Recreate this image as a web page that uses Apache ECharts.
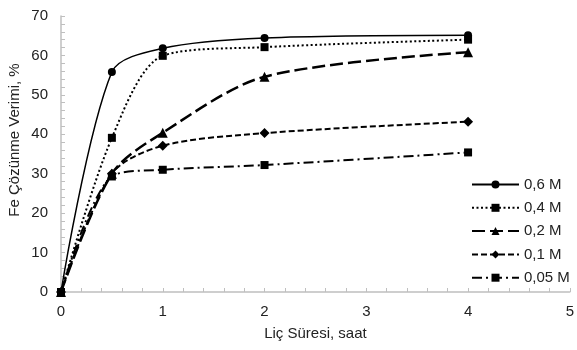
<!DOCTYPE html>
<html><head><meta charset="utf-8">
<script src="https://cdn.jsdelivr.net/npm/echarts@6/dist/echarts.min.js"></script>
<style>html,body{margin:0;padding:0;background:#fff}#c{width:577px;height:350px}</style>
</head><body><div id="c"></div>
<script>
const times = [0, 0.5, 1, 2, 4];
const names = ['0,6 M', '0,4 M', '0,2 M', '0,1 M', '0,05 M'];
const s06 = [0, 55.8, 61.8, 64.4, 65.1];
const s04 = [0, 39.1, 59.9, 62.1, 64.0];
const s02 = [0, 30.0, 40.4, 54.6, 60.8];
const s01 = [0, 30.0, 37.1, 40.3, 43.2];
const s005 = [0, 29.3, 31.0, 32.2, 35.4];
const xTitle = 'Liç Süresi, saat';
const yTitle = 'Fe Çözünme Verimi, %';
const allVals = [s06, s04, s02, s01, s005];
const symbols = ['circle', 'rect', 'triangle', 'diamond', 'rect'];
const symSizes = [8, 8, 10, 10, 8];
const widths = [1.5, 2, 2.5, 2, 2];
const dashes = ['solid', [2, 2.5], [13, 5], [6, 3], [10, 4, 2, 4]];
const font = 'Liberation Sans, Arial, sans-serif';
const txt = '#222';

const chart = echarts.init(document.getElementById('c'), null, {renderer: 'canvas'});
const series = allVals.map((vals, i) => ({
  name: names[i],
  type: 'line',
  data: times.map((t, j) => [t, vals[j]]),
  smooth: 0.3,
  symbol: symbols[i],
  symbolSize: symSizes[i],
  showAllSymbol: true,
  itemStyle: {color: '#000'},
  lineStyle: {color: '#000', width: widths[i], type: dashes[i]},
  z: 10 - i
}));
chart.setOption({
  animation: false,
  backgroundColor: '#fff',
  grid: {left: 61, right: 3, top: 16, bottom: 58, containLabel: false},
  legend: {
    orient: 'vertical', left: 466, top: 172,
    itemWidth: 47, itemHeight: 10, itemGap: 8.3,
    textStyle: {fontFamily: font, fontSize: 15, color: txt},
    data: names
  },
  graphic: [{
    type: 'text', x: 15, y: 140, rotation: Math.PI / 2,
    style: {text: yTitle, font: '15px ' + font, fill: txt, textAlign: 'center', textVerticalAlign: 'middle'}
  }],
  xAxis: {
    type: 'value', min: 0, max: 5, interval: 1,
    name: xTitle, nameLocation: 'middle', nameGap: 34,
    nameTextStyle: {fontFamily: font, fontSize: 15, color: txt},
    axisLine: {lineStyle: {color: '#bfbfbf', width: 1.5}},
    axisTick: {show: true, inside: true, length: 4, lineStyle: {color: '#bfbfbf'}},
    minorTick: {show: true, splitNumber: 5, length: 4, lineStyle: {color: '#bfbfbf'}},
    axisLabel: {fontFamily: font, fontSize: 15, color: txt, margin: 12},
    splitLine: {show: false}
  },
  yAxis: {
    type: 'value', min: 0, max: 70, interval: 10,
    axisLine: {show: true, lineStyle: {color: '#bfbfbf', width: 1.5}},
    axisTick: {show: true, inside: true, length: 4, lineStyle: {color: '#bfbfbf'}},
    minorTick: {show: true, splitNumber: 5, length: 4, lineStyle: {color: '#bfbfbf'}},
    axisLabel: {fontFamily: font, fontSize: 15, color: txt, margin: 13},
    splitLine: {show: false}
  },
  series: series
});
</script></body></html>
